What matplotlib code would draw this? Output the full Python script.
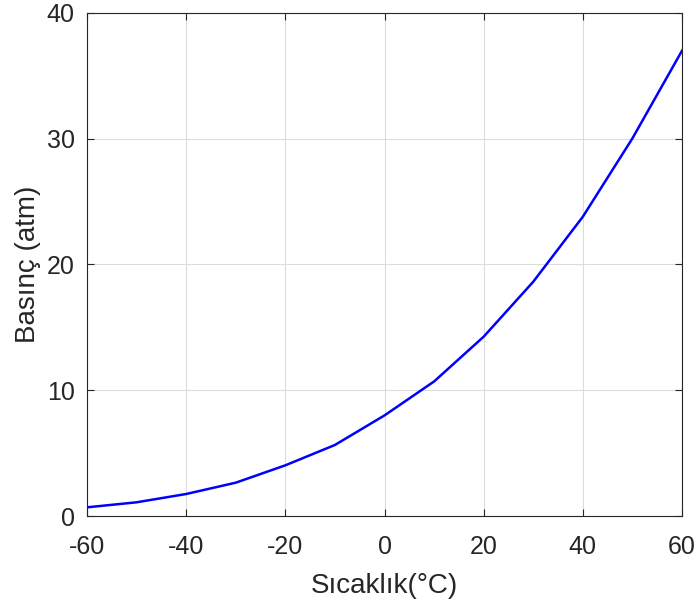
import matplotlib
matplotlib.use("Agg")
import matplotlib.pyplot as plt

sicaklik = [-60, -50, -40, -30, -20, -10, 0, 10, 20, 30, 40, 50, 60]
basinc = [0.69, 1.09, 1.75, 2.65, 4.03, 5.65, 8.0, 10.7, 14.26, 18.63, 23.8, 30.03, 37.0]

plt.rcParams['font.family'] = ['Liberation Sans', 'DejaVu Sans']
plt.rcParams['axes.unicode_minus'] = False

fig = plt.figure(figsize=(6.99, 6.09), dpi=100)
ax = fig.add_axes([0.1245, 0.1527, 0.8512, 0.826])

ax.plot(sicaklik, basinc, color='blue', linewidth=1.8)
ax.set_xlim(-60, 60)
ax.set_ylim(0, 40)
ax.set_xticks(range(-60, 61, 20))
ax.set_yticks(range(0, 41, 10))
ax.grid(True, color='#dcdcdc', linewidth=0.8)
ax.tick_params(direction='in', top=True, right=True, labelsize=18,
               colors='#262626', length=5)
ax.tick_params(axis='x', pad=14)
ax.tick_params(axis='y', pad=9)
for s in ax.spines.values():
    s.set_color('#262626')
ax.set_xlabel('Sıcaklık(°C)', fontsize=20, color='#262626', labelpad=10)
ax.set_ylabel('Basınç (atm)', fontsize=20, color='#262626', labelpad=4)

fig.savefig('out.png', dpi=100)
